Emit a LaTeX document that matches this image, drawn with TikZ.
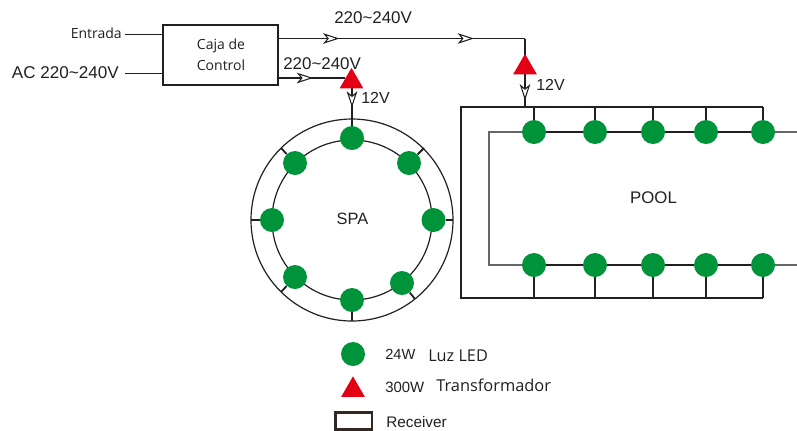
\documentclass[tikz,border=0pt]{standalone}
\usepackage{fontspec}
\setmainfont{Liberation Sans}
\newfontfamily\hfont{Open Sans}
\usetikzlibrary{decorations.markings,shapes.geometric}
\definecolor{ledgreen}{RGB}{0,148,58}
\definecolor{trired}{RGB}{228,0,20}
\definecolor{ink}{RGB}{35,31,32}
\definecolor{brownink}{RGB}{50,40,35}
\tikzset{
  x=0.75pt,y=-0.75pt,
  wire/.style={draw=ink,line width=1.35pt},
  thin wire/.style={draw=ink,line width=0.9pt},
  gray wire/.style={draw=black!60,line width=1pt},
  led/.style={circle,fill=ledgreen,draw=none,minimum size=18pt,inner sep=0pt},
  trafo/.style={regular polygon,regular polygon sides=3,fill=trired,draw=none,minimum size=20.5pt,inner sep=0pt},
  label/.style={inner sep=0pt,text=ink,font=\fontsize{12pt}{14pt}\selectfont,anchor=base west},
  hlabel/.style={inner sep=0pt,text=ink,font=\hfont\fontsize{11.5pt}{14pt}\selectfont,anchor=base west},
  mark at/.style={postaction={decorate,decoration={markings,mark=at position #1 with {\draw[draw=ink,line width=0.8pt,fill=white] (-4.9pt,-3.2pt) -- (4.9pt,0pt) -- (-4.9pt,3.2pt) -- (-2.2pt,0pt) -- cycle;}}}},
}
\begin{document}
\begin{tikzpicture}
\useasboundingbox (0,0) rectangle (797,430);
% Control box
\node[draw=ink,line width=0.9pt,fill=white,minimum width=86.25pt,minimum height=45pt,inner sep=0pt] (box) at (220.5,55) {};
\node[hlabel,anchor=center] (boxa) at (221,46) {\fontsize{10.5pt}{12pt}\selectfont Caja de};
\node[hlabel,anchor=center] (boxb) at (221,65) {\fontsize{10.5pt}{12pt}\selectfont Control};
% Inputs
\coordinate (inA) at (125,34.5);
\coordinate (inB) at (125,73.5);
\coordinate (boxA) at (163,34.5);
\coordinate (boxB) at (163,73.5);
\draw[wire] (inA) -- (boxA);
\draw[wire] (inB) -- (boxB);
\node[hlabel,anchor=base east] (ent) at (122,38.5) {\fontsize{10.5pt}{12pt}\selectfont Entrada};
\node[label,anchor=base east,font=\fontsize{12.8pt}{14pt}\selectfont] (ac) at (119,78) {AC 220\textasciitilde 240V};
% Junction points
\coordinate (boxC) at (278,38.5);
\coordinate (boxD) at (278,78);
\coordinate (t1w) at (345,78);
\coordinate (bend) at (525,38.5);
\coordinate (t2n) at (525,58);
\coordinate (t1s) at (352,88);
\coordinate (t2s) at (525,74);
\coordinate (busT) at (525,107);
% SPA
\coordinate (spa) at (352,220);
\draw[thin wire] (spa) circle[radius=101];
\draw[thin wire] (spa) circle[radius=80];
\foreach \n/\x/\y/\ex/\ey in {sa/409/163/424/148,sb/295/163/281/148,sc/272/220/251/220,sd/433.5/220/453/220,se/352/300/352/321,sf/295/277/281/292,sg/402/283/415/299}{
  \coordinate (\n end) at (\ex,\ey);
  \node[led] (\n) at (\x,\y) {};
  \draw[wire] (\n) -- (\n end);
}
\node[led] (stop) at (352,138) {};
\node[label,anchor=center,font=\fontsize{12.3pt}{14pt}\selectfont] (spal) at (352.5,219) {SPA};
% Wires with arrows
\draw[wire,mark at=0.4] (boxD) -- (t1w);
\draw[wire,mark at=0.215] (boxC) -- (bend);
\path[mark at=0.76] (boxC) -- (bend);
\draw[wire] (bend) -- (t2n);
\draw[wire,mark at=0.3] (t1s) -- (stop);
\draw[wire,mark at=0.55] (t2s) -- (busT);
\node[trafo] (t1) at (351.5,81.5) {};
\node[trafo] (t2) at (525,67.5) {};
% Labels
\node[label,font=\fontsize{12.7pt}{14pt}\selectfont] (v1) at (334,23) {220\textasciitilde 240V};
\node[label,font=\fontsize{12.7pt}{14pt}\selectfont] (v2) at (283,69) {220\textasciitilde 240V};
\node[label] (v3) at (361,103) {12V};
\node[label] (v4) at (536,90) {12V};
% POOL
\coordinate (c1) at (461,107);
\coordinate (c2) at (461,298);
\coordinate (c3) at (763,298);
\coordinate (c4) at (763,107);
\coordinate (g1) at (489,132);
\coordinate (g2) at (489,265);
\coordinate (gr1) at (797,132);
\coordinate (gr2) at (797,265);
\draw[wire,line join=miter] (c4) -- (c1) -- (c2) -- (c3);
\foreach \n/\x in {a/534,b/595,c/653,d/706,e/763}{
  \coordinate (ta\n) at (\x,107);
  \coordinate (ba\n) at (\x,298);
  \coordinate (tl\n) at (\x,132);
  \coordinate (bl\n) at (\x,265);
}
\draw[gray wire] (gr1) -- (tle);
\draw[gray wire] (gr2) -- (ble);
\draw[gray wire] (tla) -- (g1) -- (g2) -- (bla);
\draw[wire] (tla) -- (tle);
\draw[wire] (bla) -- (ble);
\foreach \n in {a,b,c,d,e}{
  \draw[wire] (ta\n) -- (tl\n);
  \draw[wire] (ba\n) -- (bl\n);
  \node[led] (lt\n) at (tl\n) {};
  \node[led] (lb\n) at (bl\n) {};
}
\node[label,anchor=center,font=\fontsize{12.6pt}{14pt}\selectfont] (pool) at (653.5,198) {POOL};
% Legend
\node[led] (lgled) at (353,354) {};
\node[trafo] (lgtri) at (353,390) {};
\node[draw=brownink,line width=2pt,minimum width=27.5pt,minimum height=13pt,inner sep=0pt] (lgbox) at (353.5,421) {};
\node[label,font=\fontsize{11pt}{12pt}\selectfont] (l1) at (385,359) {24W};
\node[hlabel] (l1b) at (428,361) {\fontsize{12.2pt}{12pt}\selectfont Luz LED};
\node[label,font=\fontsize{11.2pt}{12pt}\selectfont] (l2) at (385,392) {300W};
\node[hlabel] (l2b) at (436,391) {\fontsize{12.3pt}{12pt}\selectfont Transformador};
\node[label,font=\fontsize{11.5pt}{12pt}\selectfont] (l3) at (386,427) {Receiver};
\end{tikzpicture}
\end{document}
